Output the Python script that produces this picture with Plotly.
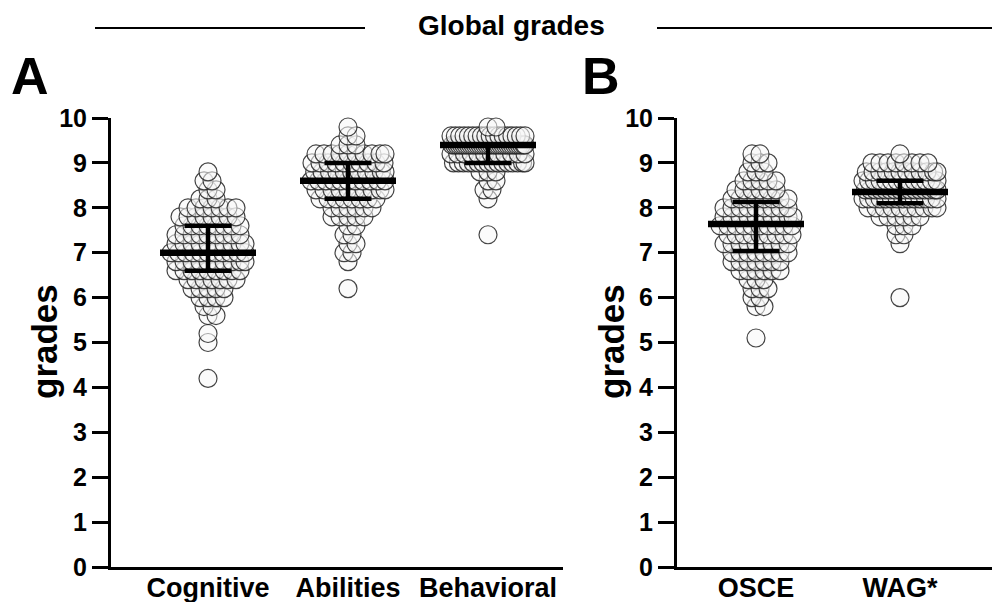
import plotly.graph_objects as go

# ---------------- data ----------------
cats_a = ["Cognitive", "Abilities", "Behavioral"]
cats_b = ["OSCE", "WAG*"]

cog_vals = [4.2, 5.0, 5.2, 5.6, 5.8, 6.0, 6.2, 6.4, 6.6, 6.8, 7.0, 7.2, 7.4, 7.6, 7.8, 8.0, 8.2, 8.4, 8.6, 8.8]
cog_cnts = [1, 1, 1, 2, 2, 4, 5, 7, 9, 10, 11, 10, 9, 8, 8, 7, 3, 2, 2, 1]

abi_vals = [6.2, 6.8, 7.0, 7.2, 7.4, 7.6, 7.8, 8.0, 8.2, 8.4, 8.6, 8.8, 9.0, 9.2, 9.4, 9.6, 9.8]
abi_cnts = [1, 1, 2, 2, 2, 2, 5, 6, 8, 10, 11, 11, 10, 10, 3, 2, 1]

beh_vals = [7.4, 8.2, 8.4, 8.6, 8.8, 9.0, 9.2, 9.4, 9.6, 9.8]
beh_cnts = [1, 1, 2, 2, 3, 16, 12, 33, 18, 2]

osce_vals = [5.1, 5.8, 6.0, 6.2, 6.4, 6.6, 6.8, 7.0, 7.2, 7.4, 7.6, 7.8, 8.0, 8.2, 8.4, 8.6, 8.8, 9.0, 9.2]
osce_cnts = [1, 2, 2, 3, 3, 6, 7, 8, 9, 9, 10, 10, 9, 8, 6, 5, 3, 3, 2]

wag_vals = [6.0, 7.2, 7.4, 7.6, 7.8, 8.0, 8.2, 8.4, 8.6, 8.8, 9.0, 9.2]
wag_cnts = [1, 1, 2, 3, 6, 10, 14, 16, 14, 12, 8, 1]

median_a = [7.0, 8.6, 9.4]
q1_a = [6.6, 8.2, 9.0]
q3_a = [7.6, 9.0, 9.4]

median_b = [7.64, 8.35]
q1_b = [7.04, 8.1]
q3_b = [8.13, 8.6]

y_ticks = [0, 1, 2, 3, 4, 5, 6, 7, 8, 9, 10]

# ---------------- layout geometry ----------------
W, H = 1000, 602
OFF = 8  # page body margin


def px(xp):
    return (xp - OFF) / W


def py(yp):
    return 1 - (yp - OFF) / H


ya_dom = [py(567), py(118)]
xa_dom = [px(111), px(563)]
xb_dom = [px(677), px(992)]
xa_range = [-0.6929, 2.5357]
xb_range = [-0.5486, 1.6389]
pxA = (xa_dom[1] - xa_dom[0]) * W / (xa_range[1] - xa_range[0])
pxB = (xb_dom[1] - xb_dom[0]) * W / (xb_range[1] - xb_range[0])


def swarm(center, vals, cnts, px_per_unit, spacing=8.0, maxhalf=37.0):
    """Deterministic row-wise scatter layout (points at equal value spread sideways)."""
    xs, ys = [], []
    for r, (v, n) in enumerate(zip(vals, cnts)):
        s = spacing if n <= 1 else min(spacing, 2 * maxhalf / (n - 1))
        stagger = (s / 2 if (r % 2 and 1 < n) else 0.0)
        for j in range(n):
            off = (j - (n - 1) / 2) * s + stagger
            off = max(-maxhalf, min(maxhalf, off))
            xs.append(center + off / px_per_unit)
            ys.append(v)
    return xs, ys


marker_style = dict(size=18, color="rgba(248,248,248,0.55)",
                    line=dict(color="rgba(35,35,35,0.85)", width=1.2))

fig = go.Figure()

for i, (vals, cnts) in enumerate([(cog_vals, cog_cnts), (abi_vals, abi_cnts), (beh_vals, beh_cnts)]):
    xs, ys = swarm(i, vals, cnts, pxA)
    fig.add_trace(go.Scatter(x=xs, y=ys, mode="markers", marker=marker_style,
                             cliponaxis=False, showlegend=False, xaxis="x", yaxis="y"))

for i, (vals, cnts) in enumerate([(osce_vals, osce_cnts), (wag_vals, wag_cnts)]):
    xs, ys = swarm(i, vals, cnts, pxB)
    fig.add_trace(go.Scatter(x=xs, y=ys, mode="markers", marker=marker_style,
                             cliponaxis=False, showlegend=False, xaxis="x2", yaxis="y2"))


def stat_trace(n, med, q1, q3, xa, ya):
    return go.Scatter(
        x=list(range(n)), y=med, mode="markers", cliponaxis=False, showlegend=False,
        marker=dict(symbol="line-ew", size=96 / 1.4, line=dict(color="black", width=6.5)),
        error_y=dict(type="data", symmetric=False,
                     array=[b - m for m, b in zip(med, q3)],
                     arrayminus=[m - a for m, a in zip(med, q1)],
                     width=23.5, thickness=4.5, color="black"),
        xaxis=xa, yaxis=ya)


fig.add_trace(stat_trace(3, median_a, q1_a, q3_a, "x", "y"))
fig.add_trace(stat_trace(2, median_b, q1_b, q3_b, "x2", "y2"))

FONT = "Liberation Sans, Arial, sans-serif"
tickfont = dict(family=FONT, size=25, color="black", weight="bold")
catfont = dict(family=FONT, size=27, color="black", weight="bold")

yax = dict(range=[0, 10], tickvals=y_ticks, showline=True, linewidth=3, linecolor="black",
           ticks="outside", ticklen=16, tickwidth=3, tickcolor="black", automargin=False,
           showgrid=False, zeroline=False, tickfont=tickfont, domain=ya_dom)
xax = dict(showline=True, linewidth=3, linecolor="black", ticks="", ticklen=0, showgrid=False,
           zeroline=False, tickfont=catfont, ticklabelstandoff=-5, automargin=False)


def ann(text, xp, yp, size, angle=0):
    return dict(text=text, x=px(xp), y=py(yp), xref="paper", yref="paper", showarrow=False,
                xanchor="center", yanchor="middle", textangle=angle,
                font=dict(family=FONT, size=size, color="black", weight="bold"))


fig.update_layout(
    width=W, height=H, margin=dict(l=0, r=0, t=0, b=0, pad=0, autoexpand=False),
    paper_bgcolor="white", plot_bgcolor="white", showlegend=False,
    xaxis=dict(xax, domain=xa_dom, range=xa_range, tickvals=list(range(3)), ticktext=cats_a, anchor="y"),
    yaxis=dict(yax, anchor="x"),
    xaxis2=dict(xax, domain=xb_dom, range=xb_range, tickvals=list(range(2)), ticktext=cats_b, anchor="y2"),
    yaxis2=dict(yax, anchor="x2"),
    annotations=[
        ann("Global grades", 511, 25, 28),
        ann("A", 30, 76, 52),
        ann("B", 601, 76, 52),
        ann("grades", 44, 342, 35, -90),
        ann("grades", 611, 342, 35, -90),
    ],
    shapes=[
        dict(type="line", xref="paper", yref="paper", x0=px(95), x1=px(365),
             y0=py(28), y1=py(28), line=dict(color="black", width=2)),
        dict(type="line", xref="paper", yref="paper", x0=px(657), x1=px(1000),
             y0=py(28), y1=py(28), line=dict(color="black", width=2)),
    ],
)

fig.write_html("out.html")
